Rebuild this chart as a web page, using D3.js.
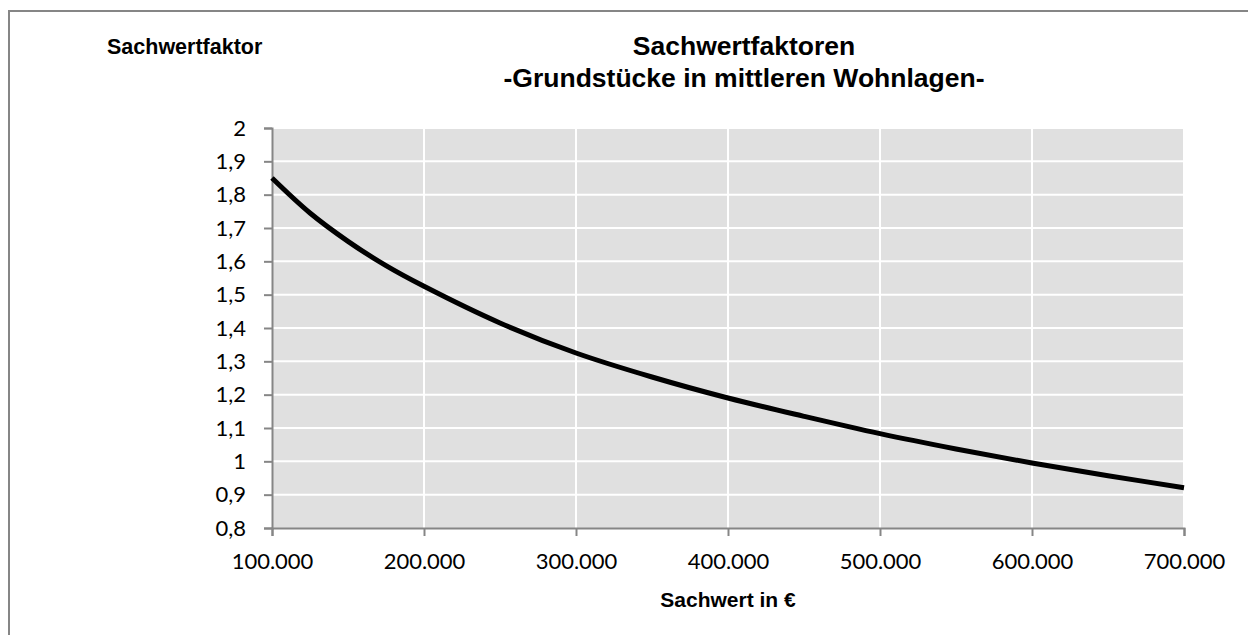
<!DOCTYPE html>
<meta charset="utf-8">
<head>
    <title>Sachwertfaktoren</title>
    <script src="https://d3js.org/d3.v7.min.js"></script>
    <style>
        body { margin: 0; background: white; }
        .tick text { font-family: Lato, "Open Sans", sans-serif; font-size: 22px; fill: #000; }
        .bold { font-family: "Liberation Sans", Arial, sans-serif; font-weight: bold; fill: #000; }
    </style>
</head>
<body>
    <svg id="svg"></svg>
    <script>
        // data
        const sachwert = [100000, 125000, 150000, 175000, 200000, 250000, 300000, 350000, 400000, 450000, 500000, 550000, 600000, 650000, 700000]
        const faktor = [1.85, 1.745, 1.66, 1.587, 1.525, 1.415, 1.325, 1.253, 1.19, 1.135, 1.083, 1.037, 0.995, 0.957, 0.921]
        const xTicks = [100000, 200000, 300000, 400000, 500000, 600000, 700000]
        const yTicks = [0.8, 0.9, 1, 1.1, 1.2, 1.3, 1.4, 1.5, 1.6, 1.7, 1.8, 1.9, 2]

        const width = 1248, height = 635
        const margin = { left: 272, right: 64, top: 128, bottom: 107 }

        let svg = d3.select('#svg').attr('width', width).attr('height', height)

        // outer frame
        svg.append('rect')
            .attr('x', 9).attr('y', 11)
            .attr('width', width + 20).attr('height', height + 20)
            .attr('fill', 'white')
            .attr('stroke', '#868686')
            .attr('stroke-width', 2)

        let x = d3.scaleLinear().domain([100000, 700000]).range([margin.left, width - margin.right])
        let y = d3.scaleLinear().domain([0.8, 2]).range([height - margin.bottom, margin.top])

        // plot background
        svg.append('rect')
            .attr('x', x(100000)).attr('y', y(2))
            .attr('width', x(700000) - x(100000)).attr('height', y(0.8) - y(2))
            .attr('fill', '#e0e0e0')

        // grid
        svg.append('g')
            .selectAll('line')
            .data(yTicks.slice(1))
            .enter().append('line')
            .attr('x1', x(100000)).attr('x2', x(700000))
            .attr('y1', d => y(d)).attr('y2', d => y(d))
            .attr('stroke', 'white').attr('stroke-width', 2)
        svg.append('g')
            .selectAll('line')
            .data(xTicks.slice(1))
            .enter().append('line')
            .attr('x1', d => x(d)).attr('x2', d => x(d))
            .attr('y1', y(2)).attr('y2', y(0.8))
            .attr('stroke', 'white').attr('stroke-width', 2)

        const de = d3.formatLocale({ decimal: ',', thousands: '.', grouping: [3], currency: ['', ' €'] })

        // axes
        svg.append('g')
            .attr('transform', 'translate(0,' + y(0.8) + ')')
            .call(d3.axisBottom(x).tickValues(xTicks).tickSize(8).tickPadding(17).tickFormat(de.format(',.0f')))
        svg.append('g')
            .attr('transform', 'translate(' + x(100000) + ',0)')
            .call(d3.axisLeft(y).tickValues(yTicks).tickSize(8).tickPadding(18).tickFormat(d => de.format('~g')(d)))
        svg.selectAll('.domain').attr('stroke', '#868686').attr('stroke-width', 2)
        svg.selectAll('.tick line').attr('stroke', '#868686').attr('stroke-width', 2)

        // curve
        let line = d3.line()
            .x((d, i) => x(sachwert[i]))
            .y(d => y(d))
            .curve(d3.curveCatmullRom)
        svg.append('path')
            .datum(faktor)
            .attr('d', line)
            .attr('fill', 'none')
            .attr('stroke', '#000')
            .attr('stroke-width', 5)

        // titles
        svg.append('text').attr('class', 'bold')
            .attr('x', 744).attr('y', 55)
            .attr('text-anchor', 'middle').style('font-size', '26.5px')
            .text('Sachwertfaktoren')
        svg.append('text').attr('class', 'bold')
            .attr('x', 744).attr('y', 87)
            .attr('text-anchor', 'middle').style('font-size', '26.5px')
            .text('-Grundstücke in mittleren Wohnlagen-')
        svg.append('text').attr('class', 'bold')
            .attr('x', 107).attr('y', 54)
            .style('font-size', '21.5px')
            .text('Sachwertfaktor')
        svg.append('text').attr('class', 'bold')
            .attr('x', (x(100000) + x(700000)) / 2).attr('y', 607)
            .attr('text-anchor', 'middle').style('font-size', '21px')
            .text('Sachwert in €')
    </script>
</body>
</html>
